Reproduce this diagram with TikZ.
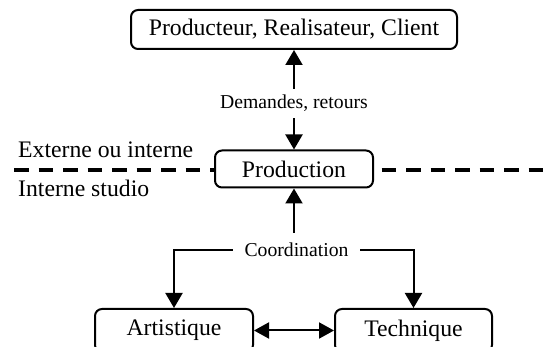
\documentclass[tikz,border=0pt]{standalone}
\usepackage{fontspec}
\setmainfont{Liberation Serif}
\usetikzlibrary{arrows.meta}
\begin{document}
\begin{tikzpicture}[x=1pt,y=-1pt,
 box/.style={draw, line width=2pt, rounded corners=7pt, fill=white, inner sep=0pt, font=\fontsize{23.7}{28}\selectfont},
 lab/.style={inner sep=0pt, font=\fontsize{19.7}{24}\selectfont},
 arr/.style={line width=2pt, -{Triangle[length=15pt,width=17pt]}},
 biarr/.style={line width=2pt, {Triangle[length=15pt,width=16pt]}-{Triangle[length=15pt,width=16pt]}},
 sep/.style={line width=4pt, dash pattern=on 14.5pt off 10pt},
 side/.style={anchor=base west, inner sep=0pt, font=\fontsize{23.7}{28}\selectfont}]
\useasboundingbox (0,0) rectangle (547,347);
\draw[sep] (14,170) -- (547,170);
\node[box, minimum width=326pt, minimum height=39pt] (top) at (294,29.5) {Producteur, Realisateur, Client};
\node[box, minimum width=158pt, minimum height=37pt] (prod) at (294,169) {Production};
\node[box, minimum width=158pt, minimum height=43pt] (art) at (174,330.5) {Artistique};
\node[box, minimum width=157pt, minimum height=43pt] (tech) at (413.5,330.5) {Technique};
\node[lab, minimum height=29pt] (dem) at (294,103.5) {Demandes, retours};
\node[lab, minimum width=127pt, minimum height=34pt] (coord) at (296.5,250) {Coordination};
\node[side] (ext) at (18,158) {Externe ou interne};
\node[side] (int) at (18,197) {Interne studio};
\draw[arr] (dem) -- (top);
\draw[arr] (dem) -- (prod);
\draw[arr] (coord.north -| prod.south) -- (prod.south);
\draw[arr] (coord.west) -| (art.north);
\draw[arr] (coord.east) -| (tech.north);
\draw[biarr] (art) -- (tech);
\end{tikzpicture}
\end{document}
